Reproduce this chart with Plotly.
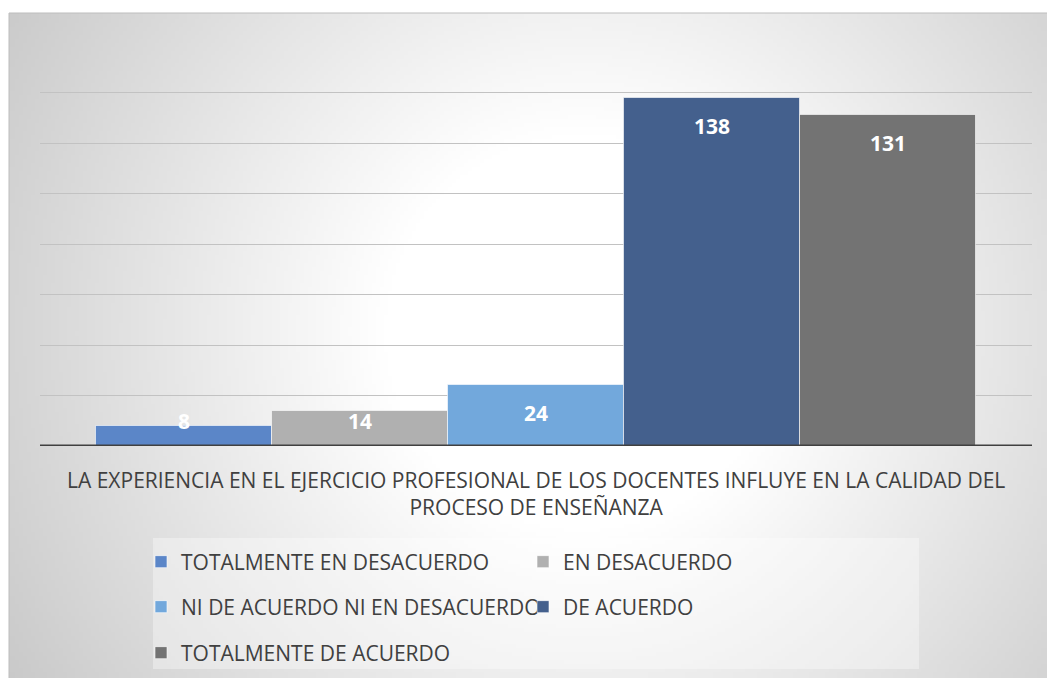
import base64
import struct
import zlib

import numpy as np
import plotly.graph_objects as go

# ---------------- data ----------------
series_names = [
    "TOTALMENTE EN DESACUERDO",
    "EN DESACUERDO",
    "NI DE ACUERDO NI EN DESACUERDO",
    "DE ACUERDO",
    "TOTALMENTE DE ACUERDO",
]
series_values = [8, 14, 24, 138, 131]
series_colors = ["#5b86c8", "#b0b0b0", "#72a8dc", "#44608d", "#737373"]
category_label = ("LA EXPERIENCIA EN EL EJERCICIO PROFESIONAL DE LOS DOCENTES INFLUYE EN LA CALIDAD DEL"
                  "<br>PROCESO DE ENSEÑANZA")
y_max = 160
y_step = 20

W, H = 1047, 678
ML, MR, MT, MB = 40, 15, 42, 232
PW, PH = W - ML - MR, H - MT - MB
PPU = PH / y_max  # pixels per value unit


def px_x(p):
    return (p - ML) / PW


def px_y(p):
    return (H - MB - p) / PH


# ------------- radial gradient background image -------------
def gradient_png(w, h, cx, cy, r0, r1, c_in, c_out):
    yy, xx = np.mgrid[0:h, 0:w]
    d = np.sqrt((xx - cx) ** 2 + (yy - cy) ** 2)
    t = np.clip((d - r0) / (r1 - r0), 0, 1)
    v = (c_in + (c_out - c_in) * t).astype(np.uint8)
    raw = b"".join(b"\x00" + bytes(np.repeat(row, 3)) for row in v)

    def chunk(tag, data):
        c = struct.pack(">I", len(data)) + tag + data
        return c + struct.pack(">I", zlib.crc32(tag + data) & 0xFFFFFFFF)

    png = b"\x89PNG\r\n\x1a\n"
    png += chunk(b"IHDR", struct.pack(">IIBBBBB", w, h, 8, 2, 0, 0, 0))
    png += chunk(b"IDAT", zlib.compress(raw, 9))
    png += chunk(b"IEND", b"")
    return "data:image/png;base64," + base64.b64encode(png).decode()


fx0, fy0, fx1, fy1 = 9, 13, W, H
gw, gh = (fx1 - fx0) // 4, (fy1 - fy0) // 4
bg_img = gradient_png(gw, gh, (580 - fx0) / 4, (330 - fy0) / 4, 50, 175, 255, 198)

fig = go.Figure()

n = len(series_values)
legend_ids = ["legend", "legend", "legend2", "legend2", "legend3"]
for i, (name, val, col) in enumerate(zip(series_names, series_values, series_colors)):
    fig.add_trace(go.Bar(
        x=[i], y=[val], width=1, name=name,
        marker=dict(color=col, line=dict(color="rgba(255,255,255,0.6)", width=1)),
        legend=legend_ids[i],
        hoverinfo="skip",
    ))

# data labels: "inside end", but kept clear of the baseline for short bars
annotations = []
for i, val in enumerate(series_values):
    y_lab = max(val - 28 / PPU, 25 / PPU)
    annotations.append(dict(x=i, y=y_lab, xref="x", yref="y", text=str(val), showarrow=False,
                            xanchor="center", yanchor="middle",
                            font=dict(family="Open Sans", size=21, color="white", weight="bold")))

pad = (PW / 176 - n) / 2
fig.update_xaxes(range=[-0.5 - pad, n - 0.5 + pad], showticklabels=False, showgrid=False,
                 zeroline=False, showline=False, fixedrange=True)
fig.update_yaxes(range=[0, y_max], dtick=y_step, showticklabels=False, showgrid=True,
                 gridcolor="#c2c2c2", gridwidth=1, zeroline=False, showline=False)

leg_common = dict(orientation="h", xanchor="left", yanchor="middle", entrywidth=337,
                  entrywidthmode="pixels", bgcolor="rgba(0,0,0,0)",
                  font=dict(family="Open Sans", size=21, color="#404040"))
lx = px_x(141)
fig.update_layout(
    legend=dict(x=lx, y=px_y(562), **leg_common),
    legend2=dict(x=lx, y=px_y(607), **leg_common),
    legend3=dict(x=lx, y=px_y(653), **leg_common),
)

shapes = [
    # frame
    dict(type="rect", xref="paper", yref="paper", x0=px_x(fx0), x1=px_x(fx1 + 2),
         y0=px_y(fy1 + 2), y1=px_y(fy0), line=dict(color="#bdbdbd", width=1),
         fillcolor="rgba(0,0,0,0)", layer="above"),
    # legend panel
    dict(type="rect", xref="paper", yref="paper", x0=px_x(153), x1=px_x(919),
         y0=px_y(669), y1=px_y(538), line=dict(width=0),
         fillcolor="rgba(255,255,255,0.35)", layer="below"),
    # baseline
    dict(type="line", xref="paper", yref="y", x0=0, x1=1, y0=0, y1=0,
         line=dict(color="#404040", width=3), layer="above"),
]

annotations.append(dict(text=category_label, xref="paper", yref="paper", x=0.5, y=px_y(493),
                        xanchor="center", yanchor="middle", showarrow=False,
                        font=dict(family="Open Sans", size=21, color="#404040"),
                        align="center"))

fig.update_layout(
    width=W, height=H,
    margin=dict(l=ML, r=MR, t=MT, b=MB, autoexpand=False),
    paper_bgcolor="white", plot_bgcolor="rgba(0,0,0,0)",
    barmode="overlay", bargap=0,
    shapes=shapes,
    images=[dict(source=bg_img, xref="paper", yref="paper", x=px_x(fx0), y=px_y(fy0),
                 sizex=px_x(fx1) - px_x(fx0), sizey=px_y(fy0) - px_y(fy1),
                 xanchor="left", yanchor="top", sizing="stretch", layer="below")],
    annotations=annotations,
)

fig.write_html("out.html", config={"displayModeBar": False},
               post_script="document.body.style.margin='0px';")
